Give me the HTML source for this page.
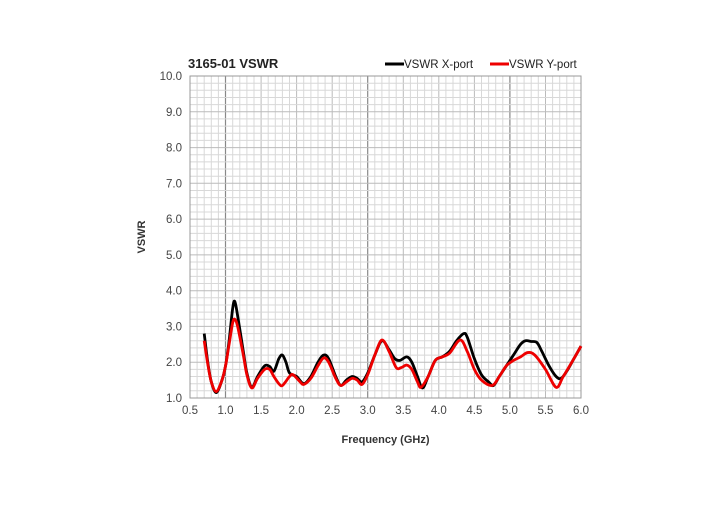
<!DOCTYPE html>
<html><head><meta charset="utf-8"><style>
body{margin:0;background:#fff;width:720px;height:500px;overflow:hidden}
svg text{font-family:"Liberation Sans",sans-serif}
</style></head><body>
<svg id="s" width="720" height="500" xmlns="http://www.w3.org/2000/svg"></svg>
<script>
const s=document.getElementById('s');
const X0=190,X1=581,Y0=398,Y1=76;
const fx=v=>X0+(v-0.5)/5.5*(X1-X0), fy=v=>Y0-(v-1)/9*(Y0-Y1);
let h='';
for(let i=0;i<=55;i++){const v=0.5+i*0.1;const x=fx(v).toFixed(1);
 const major=Math.abs((v-1)%2)<0.01||Math.abs(((v-1)%2)-2)<0.01;
 h+=`<line x1="${x}" y1="${Y1}" x2="${x}" y2="${Y0}" stroke="${major?'#888':(i%5==0?'#bbb':'#d8d8d8')}" stroke-width="${major?1.2:1}"/>`;}
for(let i=0;i<=45;i++){const v=1+i*0.2;const y=fy(v).toFixed(1);
 h+=`<line x1="${X0}" y1="${y}" x2="${X1}" y2="${y}" stroke="${i%5==0?'#bbb':'#d8d8d8'}"/>`;}
h+=`<rect x="${X0}" y="${Y1}" width="${X1-X0}" height="${Y0-Y1}" fill="none" stroke="#999"/>`;
for(let i=0;i<=9;i++){h+=`<text x="${X0-8}" y="${fy(1+i)+4}" text-anchor="end" font-size="11.5" fill="#444">${(1+i).toFixed(1)}</text>`;}
for(let i=0;i<=11;i++){const v=0.5+i*0.5;h+=`<text x="${fx(v)}" y="414" text-anchor="middle" font-size="11.5" fill="#444">${v.toFixed(1)}</text>`;}
h+=`<text x="${(X0+X1)/2}" y="443" text-anchor="middle" font-size="11" font-weight="bold" fill="#333">Frequency (GHz)</text>`;
h+=`<text x="0" y="0" transform="translate(145,237) rotate(-90)" text-anchor="middle" font-size="11" font-weight="bold" fill="#333">VSWR</text>`;
h+=`<text x="188" y="68" font-size="13" font-weight="bold" fill="#222">3165-01 VSWR</text>`;
h+=`<line x1="385" y1="64" x2="404" y2="64" stroke="#000" stroke-width="3"/><text x="404" y="68" font-size="11.5" fill="#222">VSWR X-port</text>`;
h+=`<line x1="490" y1="64" x2="509" y2="64" stroke="#e00" stroke-width="3"/><text x="509" y="68" font-size="11.5" fill="#222">VSWR Y-port</text>`;
const B=[[0.7,2.8],[0.75,2.0],[0.8,1.45],[0.87,1.15],[0.95,1.5],[1.0,1.9],[1.05,2.6],[1.1,3.5],[1.13,3.7],[1.17,3.3],[1.25,2.3],[1.3,1.7],[1.37,1.3],[1.45,1.6],[1.55,1.9],[1.62,1.88],[1.68,1.75],[1.75,2.1],[1.8,2.2],[1.85,2.0],[1.9,1.7],[2.0,1.6],[2.1,1.4],[2.2,1.6],[2.3,2.0],[2.38,2.2],[2.45,2.1],[2.55,1.6],[2.62,1.35],[2.7,1.5],[2.78,1.6],[2.85,1.55],[2.92,1.45],[3.0,1.7],[3.1,2.2],[3.2,2.6],[3.3,2.35],[3.38,2.1],[3.45,2.05],[3.55,2.15],[3.62,2.0],[3.7,1.6],[3.77,1.28],[3.85,1.6],[3.95,2.05],[4.05,2.15],[4.15,2.3],[4.25,2.6],[4.35,2.8],[4.4,2.7],[4.5,2.1],[4.6,1.65],[4.7,1.45],[4.77,1.35],[4.85,1.6],[4.95,1.9],[5.05,2.2],[5.15,2.5],[5.22,2.6],[5.3,2.58],[5.38,2.55],[5.45,2.3],[5.55,1.9],[5.65,1.6],[5.72,1.55],[5.8,1.75],[5.9,2.1],[6.0,2.45]];
const R=[[0.7,2.6],[0.75,1.95],[0.8,1.45],[0.87,1.18],[0.95,1.5],[1.0,1.9],[1.05,2.5],[1.1,3.1],[1.13,3.2],[1.17,3.0],[1.25,2.2],[1.3,1.65],[1.37,1.28],[1.45,1.55],[1.55,1.8],[1.62,1.8],[1.68,1.6],[1.75,1.4],[1.8,1.35],[1.9,1.6],[1.95,1.65],[2.05,1.45],[2.1,1.38],[2.2,1.55],[2.3,1.9],[2.38,2.12],[2.45,2.0],[2.55,1.55],[2.62,1.35],[2.7,1.45],[2.78,1.55],[2.85,1.5],[2.92,1.38],[3.0,1.65],[3.1,2.2],[3.2,2.62],[3.3,2.3],[3.4,1.85],[3.47,1.85],[3.55,1.92],[3.62,1.8],[3.7,1.45],[3.75,1.3],[3.85,1.6],[3.95,2.05],[4.05,2.15],[4.15,2.25],[4.3,2.62],[4.4,2.3],[4.5,1.8],[4.6,1.5],[4.75,1.35],[4.85,1.6],[4.95,1.9],[5.05,2.05],[5.15,2.15],[5.25,2.27],[5.35,2.2],[5.5,1.8],[5.65,1.3],[5.75,1.6],[5.9,2.1],[6.0,2.45]];
function path(d){const p=d.map(a=>[fx(a[0]),fy(a[1])]);let o=`M${p[0][0]},${p[0][1]}`;
for(let i=0;i<p.length-1;i++){const a=p[Math.max(0,i-1)],b=p[i],c=p[i+1],e=p[Math.min(p.length-1,i+2)];
o+=` C${b[0]+(c[0]-a[0])/6},${b[1]+(c[1]-a[1])/6} ${c[0]-(e[0]-b[0])/6},${c[1]-(e[1]-b[1])/6} ${c[0]},${c[1]}`;}return o;}
h+=`<path d="${path(B)}" fill="none" stroke="#000" stroke-width="2.8"/>`;
h+=`<path d="${path(R)}" fill="none" stroke="#e00" stroke-width="2.8"/>`;
s.innerHTML=h;
</script>
</body></html>
